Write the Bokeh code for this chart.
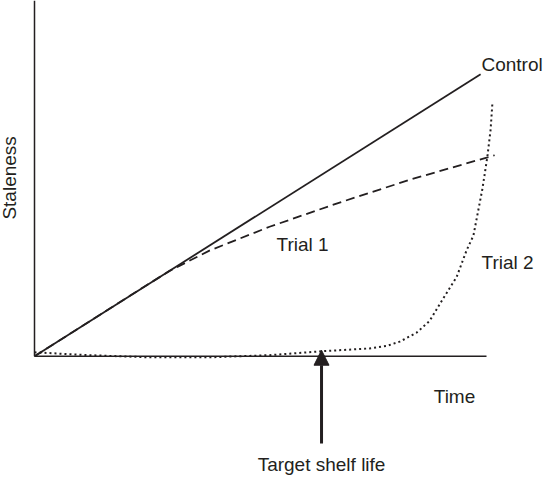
import numpy as np
from bokeh.plotting import figure
from bokeh.models import Range1d, Arrow, NormalHead, ColumnDataSource
from bokeh.core.properties import value
from bokeh.embed import file_html
from bokeh.resources import INLINE

# ---- data (time and staleness in arbitrary units, axes run 0..10) ----
control_time = [0.0, 9.87]
control_stale = [0.0, 7.93]

trial1_time = [0.0, 1.22, 2.32, 2.99, 3.87, 5.20, 6.75, 8.30, 10.18]
trial1_stale = [0.0, 0.98, 1.87, 2.40, 2.97, 3.64, 4.32, 4.96, 5.65]

trial2_time = [0.0, 1.22, 2.54, 3.87, 5.20, 6.35, 7.41, 7.79, 8.08, 8.45,
               8.74, 9.03, 9.34, 9.56, 9.71, 9.91, 10.02, 10.09, 10.13]
trial2_stale = [0.11, 0.03, -0.03, -0.03, 0.03, 0.14, 0.22, 0.29, 0.41, 0.66,
                0.99, 1.60, 2.23, 2.98, 3.39, 4.71, 5.62, 6.36, 7.11]

axis_max_time = 10.0
axis_max_stale = 10.0
target_shelf_life = 6.35

INK = "#231f20"
FONT = "Liberation Sans"
FS = "19px"

p = figure(width=544, height=476, output_backend="svg", toolbar_location=None,
           x_range=Range1d(-0.7522, 11.283), y_range=Range1d(-3.38, 10.0),
           min_border=0)
p.axis.visible = False
p.grid.visible = False
p.outline_line_color = None

# axes drawn as lines
p.line([0, 0], [0, axis_max_stale], line_color=INK, line_width=1.5)
p.line([0, axis_max_time], [0, 0], line_color=INK, line_width=1.5)

# curves
p.line(control_time, control_stale, line_color=INK, line_width=1.8)
p.line(trial1_time, trial1_stale, line_color=INK, line_width=1.8, line_dash="9 5")
p.line(trial2_time, trial2_stale, line_color=INK, line_width=2, line_dash="2 3")

# arrow for target shelf life
p.add_layout(Arrow(end=NormalHead(size=15, fill_color=INK, line_color=INK),
                   x_start=target_shelf_life, y_start=-2.45,
                   x_end=target_shelf_life, y_end=0.17,
                   line_color=INK, line_width=3))

labels = ColumnDataSource(dict(
    x=[9.889, 5.354, 9.889],
    y=[8.209, 3.14, 2.645],
    t=["Control", "Trial 1", "Trial 2"],
))
p.text(x="x", y="y", text="t", source=labels, text_font=value(FONT),
       text_font_size=FS, text_color=INK, text_align="left",
       text_baseline="middle")

p.text(x=[9.292], y=[-1.13], text=["Time"], text_font=value(FONT),
       text_font_size=FS, text_color=INK, text_align="center",
       text_baseline="middle")
p.text(x=[target_shelf_life], y=[-3.03], text=["Target shelf life"],
       text_font=value(FONT), text_font_size=FS, text_color=INK,
       text_align="center", text_baseline="middle")
p.text(x=[-0.553], y=[5.014], text=["Staleness"], text_font=value(FONT),
       text_font_size=FS, text_color=INK, text_align="center",
       text_baseline="middle", angle=np.pi / 2)

open("out.html", "w").write(file_html(p, INLINE))
